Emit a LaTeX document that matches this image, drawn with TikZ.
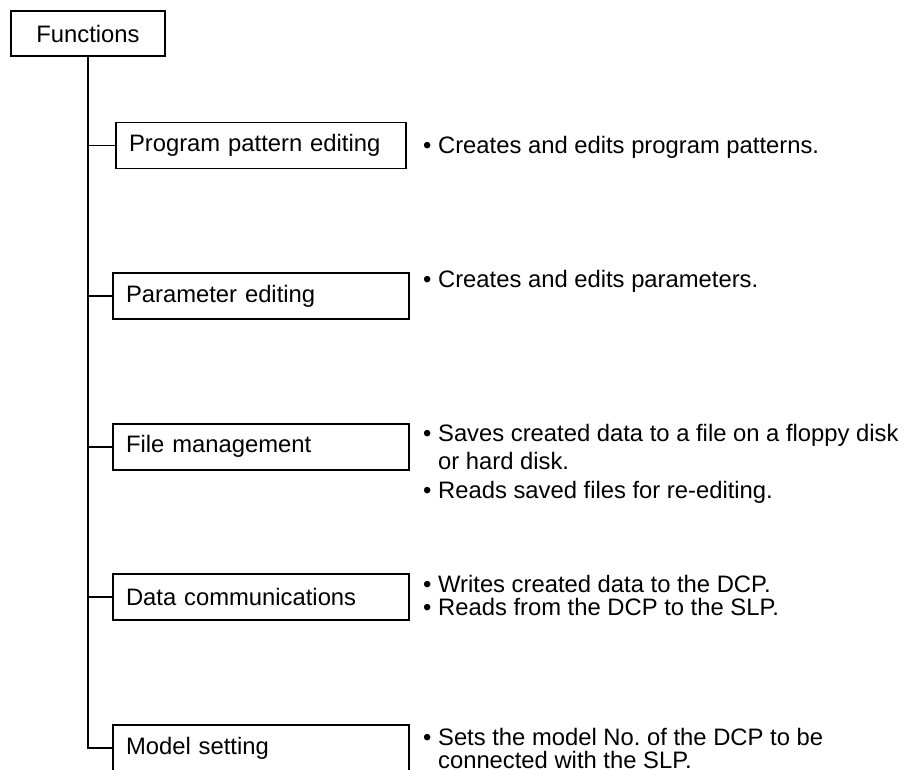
\documentclass[tikz,border=0pt]{standalone}
\usepackage{fontspec}
\setmainfont{Liberation Sans}
\usetikzlibrary{positioning}
\frenchspacing
\tikzstyle{rootbox}=[draw,line width=1.8pt,minimum width=154pt,minimum height=45pt,inner sep=0pt]
\tikzstyle{funcbox}=[draw,line width=1.8pt,minimum height=46pt,inner xsep=13pt,inner ysep=0pt,text width=270pt,align=left]
\tikzstyle{desc}=[anchor=base west,inner sep=0pt,text width=500pt,align=left,
  execute at begin node={\spaceskip=0pt\xspaceskip=0pt}]
\newcommand{\bul}[0]{\textbullet\ }
\newcommand{\nobul}[0]{\hphantom{\textbullet\ }}

\begin{document}
\begin{tikzpicture}[x=1pt,y=-1pt,node distance=150.6pt,
    font=\fontsize{23.8}{23}\selectfont]
  \useasboundingbox (0,0) rectangle (907,769);

  \node(functions)[rootbox] at (88,33.5) {Functions};

  \node(prog)[funcbox,text width=264pt] at (261,145.5) {Program pattern editing};
  \node(param)[funcbox,below of=prog] {Parameter editing};
  \node(file)[funcbox,below of=param] {File management};
  \node(comm)[funcbox,below of=file] {Data communications};
  \node(model)[funcbox,below of=comm] {Model setting};

  \draw[line width=1.8pt] (functions.south) |- (model.west);
  \foreach \b in {prog,param,file,comm}
    \draw[line width=1.8pt] (functions.south |- \b.west) -- (\b.west);

  \node(progdesc)[desc] at (423,153) {\bul Creates and edits program patterns.};
  \node(paramdesc)[desc] at (423,287) {\bul Creates and edits parameters.};
  \node(filedesc)[desc,font=\fontsize{23.8}{28.5}\selectfont] at (423,441)
    {\bul Saves created data to a file on a floppy disk\\
     \nobul or hard disk.\\
     \bul Reads saved files for re-editing.};
  \node(commdesc)[desc] at (423,592)
    {\bul Writes created data to the DCP.\\
     \bul Reads from the DCP to the SLP.};
  \node(modeldesc)[desc] at (423,745)
    {\bul Sets the model No. of the DCP to be\\
     \nobul connected with the SLP.};
\end{tikzpicture}
\end{document}
